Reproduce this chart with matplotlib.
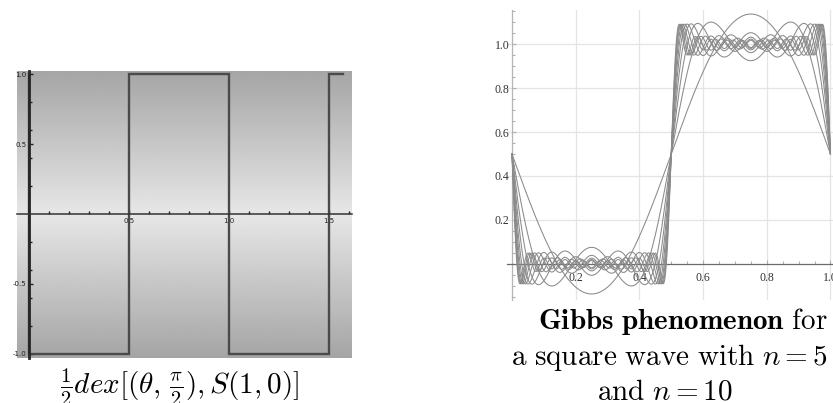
import numpy as np
import matplotlib
matplotlib.use("Agg")
import matplotlib.pyplot as plt

plt.rcParams['mathtext.fontset'] = 'cm'

# ---------------- data ----------------
# left panel: square wave breakpoints
sq_x = [0.0, 0.0, 0.5, 0.5, 1.0, 1.0, 1.5, 1.5, np.pi / 2]
sq_y = [1.0, -1.0, -1.0, 1.0, 1.0, -1.0, -1.0, 1.0, 1.0]
left_xticks = [0.5, 1.0, 1.5]
left_xtick_labels = ["0.5", "1.0", "1.5"]
left_yticks = [-1.0, -0.5, 0.5, 1.0]
left_ytick_labels = ["-1.0", "-0.5", "0.5", "1.0"]

# right panel: Fourier partial sums of a 0/1 square wave (number of odd harmonics)
n_terms = [1, 2, 3, 4, 5, 6, 7, 8, 9, 10]
right_ticks = [0.2, 0.4, 0.6, 0.8, 1.0]
right_tick_labels = ["0.2", "0.4", "0.6", "0.8", "1.0"]

W, H = 833, 403
fig = plt.figure(figsize=(W / 100, H / 100), dpi=100)

# ---------------- left panel ----------------
axL = fig.add_axes([17 / W, 1 - 358 / H, 335 / W, 287 / H])
xl0, xl1, yl0, yl1 = -0.06, 1.615, -1.032, 1.025
axL.set_xlim(xl0, xl1)
axL.set_ylim(yl0, yl1)
yy = np.linspace(yl0, yl1, 400)
g = 0.905 - 0.25 * np.abs(yy)
axL.imshow(np.repeat(g[:, None], 2, axis=1), extent=[xl0, xl1, yl0, yl1],
           aspect='auto', cmap='gray', vmin=0, vmax=1, origin='lower', zorder=0)
axL.plot(sq_x, sq_y, color='#4a4a4a', lw=1.7, zorder=3, solid_joinstyle='miter')
for s in ['top', 'right']:
    axL.spines[s].set_visible(False)
axL.spines['left'].set_position(('data', 0))
axL.spines['bottom'].set_position(('data', 0))
axL.spines['left'].set_color('#262626')
axL.spines['left'].set_linewidth(2.0)
axL.spines['bottom'].set_color('#333333')
axL.spines['bottom'].set_linewidth(1.1)
axL.spines['left'].set_zorder(4)
axL.spines['bottom'].set_zorder(4)
axL.set_xticks(left_xticks)
axL.set_xticklabels(left_xtick_labels)
axL.set_xticks(np.arange(0.1, 1.61, 0.1), minor=True)
axL.set_yticks(left_yticks)
axL.set_yticklabels(left_ytick_labels)
axL.set_yticks([-0.8, -0.6, -0.4, -0.2, 0.2, 0.4, 0.6, 0.8], minor=True)
axL.tick_params(axis='both', which='both', direction='in', color='#222222',
                labelsize=5, labelcolor='#222222')
axL.tick_params(axis='both', which='major', length=3, width=1)
axL.tick_params(axis='both', which='minor', length=2, width=1)
axL.tick_params(axis='x', pad=3)
axL.tick_params(axis='y', pad=2)

fig.text(180 / W, 1 - 394 / H,
         r"$\frac{1}{2}dex[(\theta,\,\frac{\pi}{2}),S(1,0)]$",
         ha='center', va='baseline', fontsize=21, color='black')

# ---------------- right panel ----------------
axR = fig.add_axes([507 / W, 1 - 300 / H, 326 / W, 290 / H])
axR.set_xlim(-0.0157, 1.008)
axR.set_ylim(-0.164, 1.155)
x = np.linspace(0, 1, 3001)
for n in n_terms:
    k = np.arange(1, n + 1)
    h = 2 * k - 1
    y = 0.5 - (2 / np.pi) * np.sum(np.sin(2 * np.pi * np.outer(h, x)) / h[:, None], axis=0)
    axR.plot(x, y, color='#8a8a8a', lw=0.75, zorder=3)

for s in ['top', 'right']:
    axR.spines[s].set_visible(False)
axR.spines['left'].set_position(('data', 0))
axR.spines['bottom'].set_position(('data', 0))
axR.spines['left'].set_color('#b5b5b5')
axR.spines['left'].set_linewidth(0.9)
axR.spines['bottom'].set_color('#6a6a6a')
axR.spines['bottom'].set_linewidth(0.9)
axR.set_xticks(right_ticks)
axR.set_xticklabels(right_tick_labels)
axR.set_yticks(right_ticks)
axR.set_yticklabels(right_tick_labels)
axR.set_xticks(np.arange(0.05, 1.01, 0.05), minor=True)
axR.set_yticks(np.arange(-0.15, 1.16, 0.05), minor=True)
axR.grid(True, which='major', color='#e4e4e4', lw=0.9, zorder=0)
axR.set_axisbelow(True)
axR.tick_params(axis='both', which='both', direction='in', color='#b0b0b0',
                labelsize=8.5, labelcolor='#333333')
axR.tick_params(axis='both', which='major', length=3, width=0.8)
axR.tick_params(axis='both', which='minor', length=2, width=0.8)
axR.tick_params(axis='x', pad=6)
axR.tick_params(axis='y', pad=2)
for lab in axR.get_xticklabels() + axR.get_yticklabels():
    lab.set_family('Liberation Serif')

fig.text(828 / W, 1 - 329 / H, r"$\mathbf{Gibbs\ phenomenon}\ \mathrm{for}$",
         ha='right', va='baseline', fontsize=21)
fig.text(828 / W, 1 - 365 / H, r"$\mathrm{a\ square\ wave\ with}\ n=5$",
         ha='right', va='baseline', fontsize=21)
fig.text(665 / W, 1 - 400 / H, r"$\mathrm{and}\ n=10$",
         ha='center', va='baseline', fontsize=21)

fig.savefig("out.png", dpi=100)
